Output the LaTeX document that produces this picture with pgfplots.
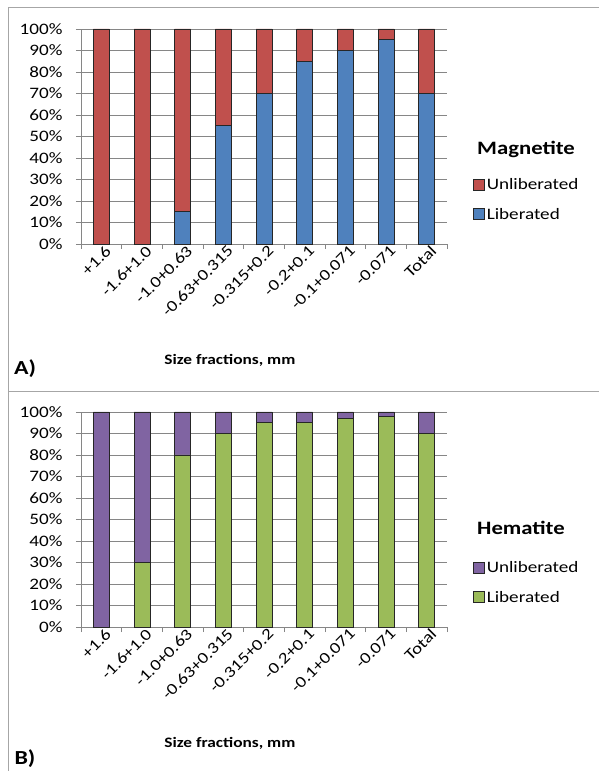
\documentclass[border=0pt]{standalone}
\usepackage{fontspec}
\setmainfont{Carlito}[FakeStretch=1.2]
\usepackage{pgfplots}
\pgfplotsset{compat=1.18}

\definecolor{exred}{HTML}{C0504D}
\definecolor{exblue}{HTML}{4F81BD}
\definecolor{expurple}{HTML}{8064A2}
\definecolor{exgreen}{HTML}{9BBB59}
\definecolor{gridgray}{HTML}{868686}
\definecolor{framegray}{HTML}{A6A6A6}

\newcommand\tf{\fontsize{16}{19}\selectfont}
\newcommand\xf{\fontsize{14.5}{17}\selectfont\bfseries}
\newcommand\lf{\fontsize{19}{22}\selectfont\bfseries}

\pgfplotsset{
  libchart/.style={
    scale only axis, width=366bp, height=215bp,
    anchor=south west, clip=false,
    ybar stacked, bar width=16bp,
    xmin=-0.5, xmax=8.5, ymin=0, ymax=100,
    axis x line*=bottom, axis y line*=left,
    axis line style={gridgray, line width=0.7bp, -},
    tick align=outside, major tick length=5bp,
    tick style={gridgray, line width=0.7bp},
    xtick={-0.5,0.5,...,8.5}, xticklabels={},
    extra x ticks={0,...,8},
    extra x tick labels={+1.6,-1.6+1.0,-1.0+0.63,-0.63+0.315,-0.315+0.2,-0.2+0.1,-0.1+0.071,-0.071,Total},
    extra x tick style={major tick length=0pt,
      xticklabel style={rotate=45, anchor=east, font=\tf, inner sep=2bp, xshift=4bp, yshift=-8bp}},
    ytick={0,10,...,100},
    yticklabels={0\%,10\%,20\%,30\%,40\%,50\%,60\%,70\%,80\%,90\%,100\%},
    yticklabel style={font=\tf, xshift=-10bp},
    ymajorgrids, major grid style={gridgray, line width=0.7bp},
    xlabel={Size fractions, mm},
    xlabel style={font=\xf, at={(axis description cs:0.407,-0.54)}, anchor=center},
    reverse legend, legend cell align=left,
    legend style={at={(axis description cs:1.071,0.207)}, anchor=west,
      draw=none, fill=none, font=\tf, /tikz/row sep=13bp, inner sep=0pt},
    legend image code/.code={\draw[#1, draw=black!85, line width=0.6bp] (0bp,-5.5bp) rectangle (11bp,5.5bp);},
    every axis plot/.append style={draw=black!85, line width=0.6bp},
  }
}

\begin{document}
\begin{tikzpicture}
\useasboundingbox (0,0) rectangle (599bp,771bp);
\draw[framegray, line width=1bp] (8bp,0) -- (8bp,763bp) -- (599bp,763bp);
\draw[framegray, line width=1bp] (8bp,379bp) -- (599bp,379bp);

% A) Magnetite
\begin{axis}[libchart, at={(81bp,527bp)}]
\addplot[fill=exblue] coordinates {(0,0) (1,0) (2,15) (3,55) (4,70) (5,85) (6,90) (7,95) (8,70)};
\addplot[fill=exred] coordinates {(0,100) (1,100) (2,85) (3,45) (4,30) (5,15) (6,10) (7,5) (8,30)};
\legend{Liberated, Unliberated}
\node[font=\lf, anchor=west, inner sep=0pt] at (axis description cs:1.082,0.442) {Magnetite};
\end{axis}
\node[font=\fontsize{20}{23}\selectfont\bfseries] at (25bp,402bp) {A)};

% B) Hematite
\begin{axis}[libchart, at={(81bp,144bp)}]
\addplot[fill=exgreen] coordinates {(0,0) (1,30) (2,80) (3,90) (4,95) (5,95) (6,97) (7,98) (8,90)};
\addplot[fill=expurple] coordinates {(0,100) (1,70) (2,20) (3,10) (4,5) (5,5) (6,3) (7,2) (8,10)};
\legend{Liberated, Unliberated}
\node[font=\lf, anchor=west, inner sep=0pt] at (axis description cs:1.082,0.46) {Hematite};
\end{axis}
\node[font=\fontsize{20}{23}\selectfont\bfseries] at (25bp,12bp) {B)};
\end{tikzpicture}
\end{document}
